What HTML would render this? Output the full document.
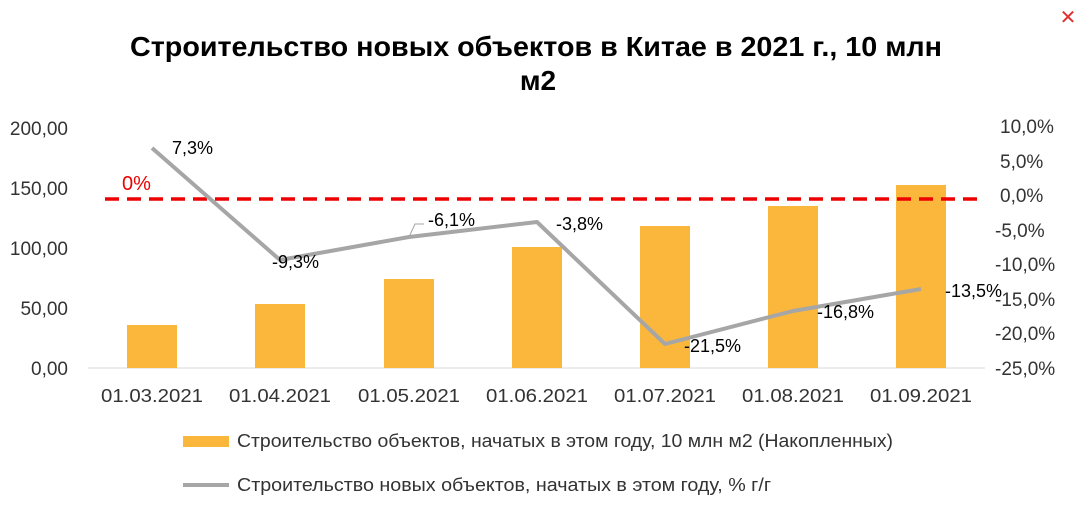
<!DOCTYPE html>
<html><head><meta charset="utf-8"><style>
body{margin:0;background:#fff;}
svg text{font-family:"Liberation Sans",sans-serif;}
</style></head><body>
<svg width="1078" height="511" viewBox="0 0 1078 511" xmlns="http://www.w3.org/2000/svg">
<rect width="1078" height="511" fill="#fff"/>
<text x="1068" y="24" font-size="20" fill="#e03030" text-anchor="middle">✕</text>
<text x="130" y="56" font-size="28" font-weight="bold" fill="#000" textLength="812" lengthAdjust="spacingAndGlyphs">Строительство новых объектов в Китае в 2021 г., 10 млн</text>
<text x="538" y="90" font-size="28" font-weight="bold" text-anchor="middle" fill="#000">м2</text>
<g font-size="19" fill="#333" text-anchor="end">
<text x="68" y="135">200,00</text><text x="68" y="195">150,00</text><text x="68" y="255">100,00</text><text x="68" y="315">50,00</text><text x="68" y="375">0,00</text>
</g>
<g font-size="19" fill="#333" text-anchor="start">
<text x="1000" y="133">10,0%</text><text x="1000" y="168">5,0%</text><text x="1000" y="202">0,0%</text><text x="995" y="237">-5,0%</text><text x="995" y="271">-10,0%</text><text x="995" y="306">-15,0%</text><text x="995" y="340">-20,0%</text><text x="995" y="375">-25,0%</text>
</g>
<line x1="88" y1="368" x2="985" y2="368" stroke="#d9d9d9" stroke-width="1"/>
<g fill="#fbb73c">
<rect x="127" y="325" width="50" height="43"/>
<rect x="255" y="304" width="50" height="64"/>
<rect x="384" y="279" width="50" height="89"/>
<rect x="512" y="247" width="50" height="121"/>
<rect x="640" y="226" width="50" height="142"/>
<rect x="768" y="206" width="50" height="162"/>
<rect x="896" y="185" width="50" height="183"/>
</g>
<g font-size="18" fill="#333">
<text x="101" y="402" textLength="102" lengthAdjust="spacingAndGlyphs">01.03.2021</text>
<text x="229" y="402" textLength="102" lengthAdjust="spacingAndGlyphs">01.04.2021</text>
<text x="358" y="402" textLength="102" lengthAdjust="spacingAndGlyphs">01.05.2021</text>
<text x="486" y="402" textLength="102" lengthAdjust="spacingAndGlyphs">01.06.2021</text>
<text x="614" y="402" textLength="102" lengthAdjust="spacingAndGlyphs">01.07.2021</text>
<text x="742" y="402" textLength="102" lengthAdjust="spacingAndGlyphs">01.08.2021</text>
<text x="870" y="402" textLength="102" lengthAdjust="spacingAndGlyphs">01.09.2021</text>
</g>
<line x1="105" y1="199" x2="978" y2="199" stroke="#ee0000" stroke-width="3.5" stroke-dasharray="14,8"/>
<text x="122" y="190" font-size="20" fill="#ee0000">0%</text>
<polyline points="152,148 280,260 409,237 537,222 665,344 793,311 921,289" fill="none" stroke="#a6a6a6" stroke-width="4" stroke-linejoin="round"/>
<polyline points="409,237 415,224 424,224" fill="none" stroke="#a6a6a6" stroke-width="1"/>
<g font-size="18" fill="#000">
<text x="172" y="154">7,3%</text>
<text x="272" y="268">-9,3%</text>
<text x="428" y="226">-6,1%</text>
<text x="556" y="230">-3,8%</text>
<text x="684" y="352">-21,5%</text>
<text x="817" y="318">-16,8%</text>
<text x="945" y="297">-13,5%</text>
</g>
<rect x="183" y="436" width="46" height="11" fill="#fbb73c"/>
<text x="237" y="447" font-size="18" fill="#333" textLength="656" lengthAdjust="spacingAndGlyphs">Строительство объектов, начатых в этом году, 10 млн м2 (Накопленных)</text>
<line x1="183" y1="485" x2="229" y2="485" stroke="#a6a6a6" stroke-width="4"/>
<text x="237" y="491" font-size="18" fill="#333" textLength="534" lengthAdjust="spacingAndGlyphs">Строительство новых объектов, начатых в этом году, % г/г</text>
</svg>
</body></html>
